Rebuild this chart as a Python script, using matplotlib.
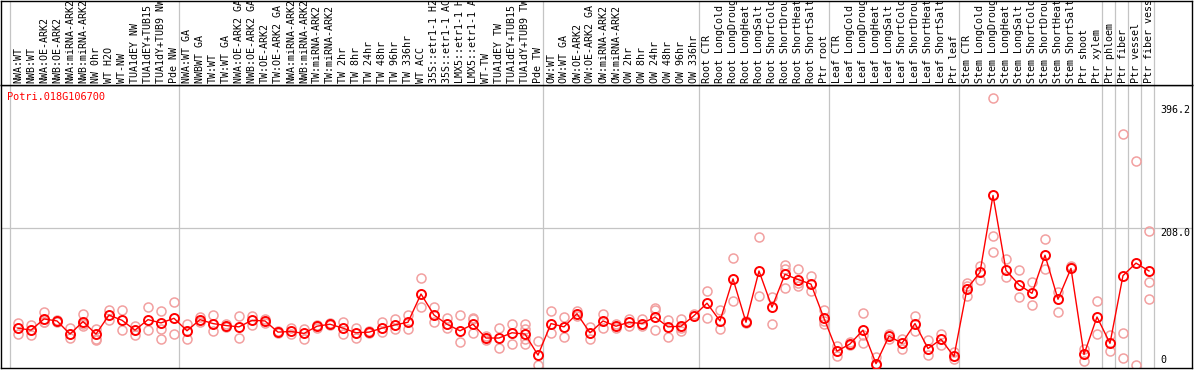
import numpy as np
import matplotlib
matplotlib.use("Agg")
import matplotlib.pyplot as plt

# sample names, left to right
labels = ["NWA:WT", "NWB:WT", "NWA:OE-ARK2", "NWB:OE-ARK2", "NWA:miRNA-ARK2", "NWB:miRNA-ARK2",
          "NW 0hr", "WT H2O", "WT-NW", "TUA1dEY NW", "TUA1dEY+TUB15 NW", "TUA1dY+TUB9 NW", "Pde NW",
          "NWA:WT GA", "NWBWT GA", "TW:WT", "TW:WT GA", "NWA:OE-ARK2 GA", "NWB:OE-ARK2 GA",
          "TW:OE-ARK2", "TW:OE-ARK2 GA", "NWA:miRNA-ARK2", "NWB:miRNA-ARK2", "TW:miRNA-ARK2",
          "TW:miRNA-ARK2", "TW 2hr", "TW 8hr", "TW 24hr", "TW 48hr", "TW 96hr", "TW 336hr", "WT ACC",
          "35S::etr1-1 H2O", "35S::etr1-1 ACC", "LMX5::etr1-1 H2O", "LMX5::etr1-1 ACC", "WT-TW",
          "TUA1dEY TW", "TUA1dEY+TUB15 TW", "TUA1dY+TUB9 TW", "Pde TW",
          "OW:WT", "OW:WT GA", "OW:OE-ARK2", "OW:OE-ARK2 GA", "OW:miRNA-ARK2", "OW:miRNA-ARK2",
          "OW 2hr", "OW 8hr", "OW 24hr", "OW 48hr", "OW 96hr", "OW 336hr",
          "Root CTR", "Root LongCold", "Root LongDrought", "Root LongHeat", "Root LongSalt",
          "Root ShortCold", "Root ShortDrought", "Root ShortHeat", "Root ShortSalt", "Ptr root",
          "Leaf CTR", "Leaf LongCold", "Leaf LongDrought", "Leaf LongHeat", "Leaf LongSalt",
          "Leaf ShortCold", "Leaf ShortDrought", "Leaf ShortHeat", "Leaf ShortSalt", "Ptr leaf",
          "Stem CTR", "Stem LongCold", "Stem LongDrought", "Stem LongHeat", "Stem LongSalt",
          "Stem ShortCold", "Stem ShortDrought", "Stem ShortHeat", "Stem ShortSalt", "Ptr shoot",
          "Ptr xylem", "Ptr phloem", "Ptr fiber", "Ptr vessel", "Ptr fiber vessel"]

# mean expression per sample
means = [56, 53, 70, 67, 47, 66, 47, 76, 68, 53, 69, 64, 71,
         52, 69, 63, 60, 58, 68, 67, 50, 51, 48, 59, 62, 56, 49, 50, 56, 61, 65, 108,
         76, 62, 52, 62, 41, 41, 49, 47, 15,
         63, 58, 78, 49, 67, 59, 65, 63, 73, 58, 59, 75,
         94, 67, 131, 65, 143, 88, 138, 130, 123, 71,
         21, 32, 53, 2, 44, 33, 63, 25, 39, 13,
         116, 141, 258, 144, 122, 109, 167, 100, 147, 16, 73,
         33, 136, 155, 143]

# individual replicates per sample
reps = [[64, 47], [61, 46], [81, 66, 65], [68, 65], [57, 41], [78, 59, 62], [54, 38, 40],
        [84, 68], [84, 53], [60, 46], [88, 53], [82, 54, 40], [96, 47],
        [62, 40], [73, 66], [76, 52], [62, 58], [75, 41], [75, 61], [70, 64], [52, 48],
        [57, 47], [55, 40], [61, 57], [64, 61], [66, 47], [57, 41], [52, 48], [66, 50],
        [70, 54], [76, 54], [132, 88], [88, 65], [71, 57], [76, 35], [70, 48, 72],
        [44, 38], [56, 26], [62, 32], [62, 54, 40, 32], [36, 0],
        [82, 48], [73, 42], [82, 74], [58, 39], [78, 57], [63, 56], [70, 60], [70, 60],
        [86, 83, 53], [68, 42], [70, 51, 57], [77],
        [113, 71], [83, 54], [163, 97], [67, 64], [195, 105], [103, 63], [152, 146, 117],
        [146, 120, 125], [136, 113], [84, 63, 67],
        [29, 13], [35, 30], [79, 34, 45], [12, 0], [47, 39], [40, 25], [75, 52], [38, 15],
        [47, 30], [20, 9],
        [124, 105, 120], [151, 129], [406, 197, 172], [162, 134], [144, 103], [127, 91],
        [191, 146], [111, 80], [151, 149], [24, 6], [98, 47],
        [45, 21], [351, 48, 10], [310, 0], [204, 126, 100]]

group_edges = [0, 13, 41, 53, 63, 73, 84, 85, 86, 87, 88]
ymax_label = 396.2
ymid_label = 208.0

W, H = 1194, 370
fig = plt.figure(figsize=(W / 100, H / 100), dpi=100)
xl = (-9 / 13, 1182 / 13)

ax = fig.add_axes([1 / W, 1 - 368 / H, 1191 / W, 283 / H])
axh = fig.add_axes([1 / W, 1 - 85 / H, 1191 / W, 84.5 / H])

x = np.arange(len(labels)) + 0.615
mono = "DejaVu Sans Mono"

for a in (ax, axh):
    a.set_xlim(xl)
    a.set_xticks([])
    a.set_yticks([])
    for s in a.spines.values():
        s.set_color("black")
        s.set_linewidth(1.0)
    for e in group_edges:
        a.axvline(e, color="#c4c4c4", lw=0.9, zorder=0)

axh.set_ylim(0, 1)
for xi, lab in zip(x, labels):
    axh.text(xi, 0.025, lab, rotation=90, ha="center", va="bottom", fontsize=7.2,
             family=mono, clip_on=True)

ax.set_ylim(-4.6, 426)
ax.axhline(ymid_label, color="#c4c4c4", lw=0.9, zorder=0)

for xi, r in zip(x, reps):
    ax.plot([xi] * len(r), r, "o", ms=6.5, mfc="none", mec="#f2a0a0", mew=1.1, zorder=2)
ax.plot(x, means, "-", color="red", lw=1, zorder=3)
ax.plot(x, means, "o", ms=6.5, mfc="none", mec="red", mew=1.4, zorder=4)

tx = (1160 - 10) / 13
ax.text(tx, ymax_label, "396.2", ha="left", va="top", fontsize=7.2, family=mono)
ax.text(tx, ymid_label, "208.0", ha="left", va="top", fontsize=7.2, family=mono)
ax.text(tx, 0, "0", ha="left", va="bottom", fontsize=7.2, family=mono)

ax.text(0.005, 0.975, "Potri.018G106700", transform=ax.transAxes, color="red",
        ha="left", va="top", fontsize=7.4, family=mono)

fig.savefig("out.png", dpi=100)
